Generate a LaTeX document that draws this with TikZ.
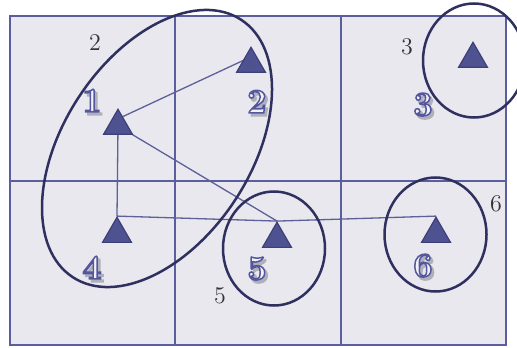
\documentclass[tikz,border=0pt]{standalone}
\usetikzlibrary{shapes.geometric,calc}
\definecolor{bgc}{HTML}{E8E8EE}
\definecolor{gridc}{HTML}{5B5E9E}
\definecolor{trif}{HTML}{4F5291}
\definecolor{trid}{HTML}{3D3F78}
\definecolor{linkc}{HTML}{5D6099}
\definecolor{ringc}{HTML}{2F305F}
\definecolor{labfill}{HTML}{F2F2F8}
\definecolor{shadc}{HTML}{B0B0BA}
\definecolor{smallc}{HTML}{333338}
\newcommand{\outl}[1]{\special{pdf:literal direct 2 Tr 0.75 w 0.33 0.34 0.62 RG}#1\special{pdf:literal direct 0 Tr}}
\newcommand{\shdw}[1]{\special{pdf:literal direct 2 Tr 0.9 w 0.69 0.69 0.73 RG}#1\special{pdf:literal direct 0 Tr}}
\newcommand{\biglbl}[1]{\rlap{\kern1.2pt\raisebox{-1.4pt}{\textcolor{shadc}{\shdw{#1}}}}\outl{#1}}
\pgfdeclarelayer{bgl}
\pgfdeclarelayer{linkl}
\pgfsetlayers{bgl,linkl,main}
\begin{document}
\begin{tikzpicture}[x=0.5pt,y=-0.5pt,
  cellline/.style={draw=gridc, line width=0.75pt},
  tri/.style={regular polygon, regular polygon sides=3, fill=trif, draw=trid, line width=0.6pt, minimum size=16.7pt, inner sep=0pt},
  link/.style={draw=linkc, line width=0.65pt},
  grp/.style={ellipse, draw=ringc, line width=1.25pt, inner sep=0pt, fill=none},
  ring/.style={grp, minimum width=51pt, minimum height=57pt},
  biglab/.style={font=\LARGE\bfseries, text=labfill, inner sep=0pt},
  smalllab/.style={font=\large, text=smallc, inner sep=0pt}]
\useasboundingbox (0,0) rectangle (517,347);
\begin{pgfonlayer}{bgl}
\fill[bgc] (10,16) rectangle (506,345);
\draw[cellline] (10,16) rectangle (506,345);
\draw[cellline] (175,16) -- (175,345);
\draw[cellline] (341,16) -- (341,345);
\draw[cellline] (10,181) -- (506,181);
\end{pgfonlayer}
% triangles
\node[tri] (t1) at (118,126) {};
\node[tri] (t2) at (251,64) {};
\node[tri] (t3) at (473,59) {};
\node[tri] (t4) at (117,234) {};
\node[tri] (t5) at (277,239) {};
\node[tri] (t6) at (436,234) {};
% links
\begin{pgfonlayer}{linkl}
\draw[link] ($(t1.center)!0.4!(t1.north)$) -- ($(t2.center)!0.4!(t2.north)$);
\draw[link] (t1.center) -- (t4.north);
\draw[link] (t1.center) -- (t5.north);
\draw[link] (t4.north) -- (t5.north);
\draw[link] (t5.north) -- (t6.north);
\end{pgfonlayer}
% groups
\node[grp, rotate=56.8, minimum width=153.8pt, minimum height=93.6pt] (g1) at (157,148.5) {};
\node[ring] (g3) at (474,60.5) {};
\node[ring] (g5) at (274,248.5) {};
\node[ring] (g6) at (435.5,234.5) {};
% big labels
\node[biglab] (l1) at (92,102) {\biglbl{1}};
\node[biglab] (l2) at (257,103) {\biglbl{2}};
\node[biglab] (l3) at (423,106) {\biglbl{3}};
\node[biglab] (l4) at (92,269) {\biglbl{4}};
\node[biglab] (l5) at (257,270) {\biglbl{5}};
\node[biglab] (l6) at (423,267) {\biglbl{6}};
% small labels
\node[smalllab] (s2) at (95,43) {2};
\node[smalllab] (s3) at (407,47) {3};
\node[smalllab] (s5) at (220,296) {5};
\node[smalllab] (s6) at (496,204) {6};
\end{tikzpicture}
\end{document}
